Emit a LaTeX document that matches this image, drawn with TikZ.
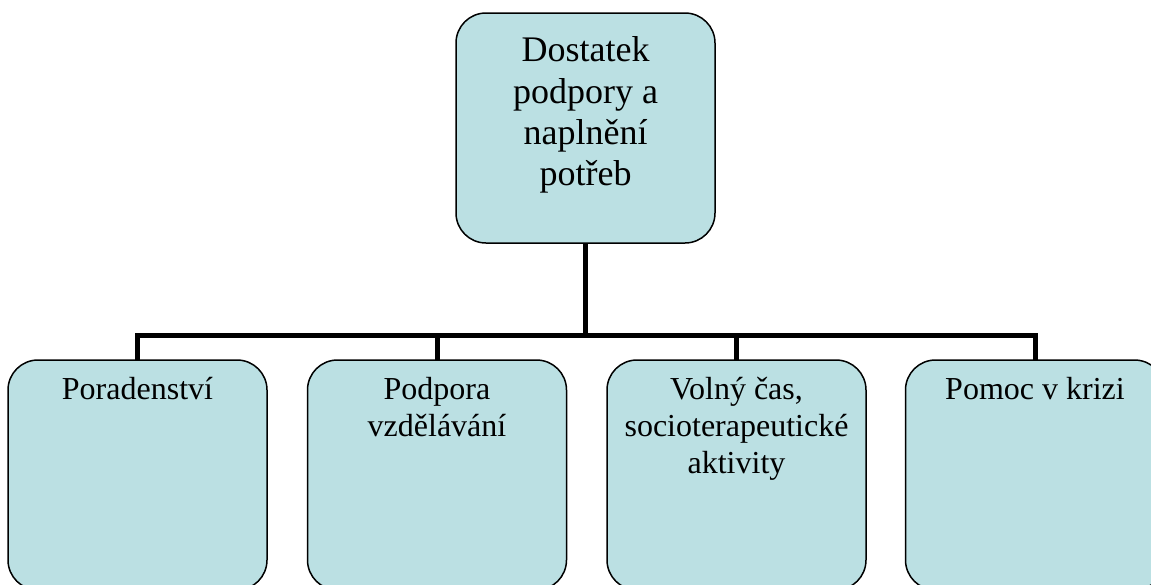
\documentclass[tikz,border=0pt]{standalone}
\usepackage{fontspec}
\setmainfont{Liberation Serif}
\definecolor{boxfill}{RGB}{187,224,227}
\begin{document}
\begin{tikzpicture}[x=1pt,y=-1pt,
  box/.style={draw=black, line width=1.5pt, fill=boxfill, rounded corners=30pt,
    minimum width=259pt, minimum height=230pt, inner sep=0pt, outer sep=0pt},
  toptext/.style={font=\fontsize{36}{41.4}\selectfont, align=center, inner sep=0pt, anchor=north},
  subtext/.style={font=\fontsize{32}{36.8}\selectfont, align=center, inner sep=0pt, anchor=north},
  link/.style={line width=5pt, line join=miter}]
\useasboundingbox (0,0) rectangle (1151,584);
\clip (0,0) rectangle (1151,584);

% root box
\node[box] (root) at (585.5,128) {};
\node[toptext] (roottext) at (585.5,36.5) {Dostatek\\podpory a\\naplnění\\potřeb};

% child boxes (they run past the lower edge)
\node[box] (c1) at (137.5,475) {};
\node[box] (c2) at (437,475) {};
\node[box] (c3) at (736.5,475) {};
\node[box] (c4) at (1035,475) {};

\node[subtext] (t1) at (137.5,377) {Poradenství};
\node[subtext] (t2) at (437,377) {Podpora\\vzdělávání};
\node[subtext] (t3) at (736.5,377) {Volný čas,\\socioterapeutické\\aktivity};
\node[subtext] (t4) at (1035,377) {Pomoc v krizi};

% connectors
\draw[link] (root.south) -- ++(0,92) coordinate (hub);
\draw[link] (c1.north) |- (hub) -| (c4.north);
\draw[link] (c2.north) -- (c2.north |- hub);
\draw[link] (c3.north) -- (c3.north |- hub);
\end{tikzpicture}
\end{document}
